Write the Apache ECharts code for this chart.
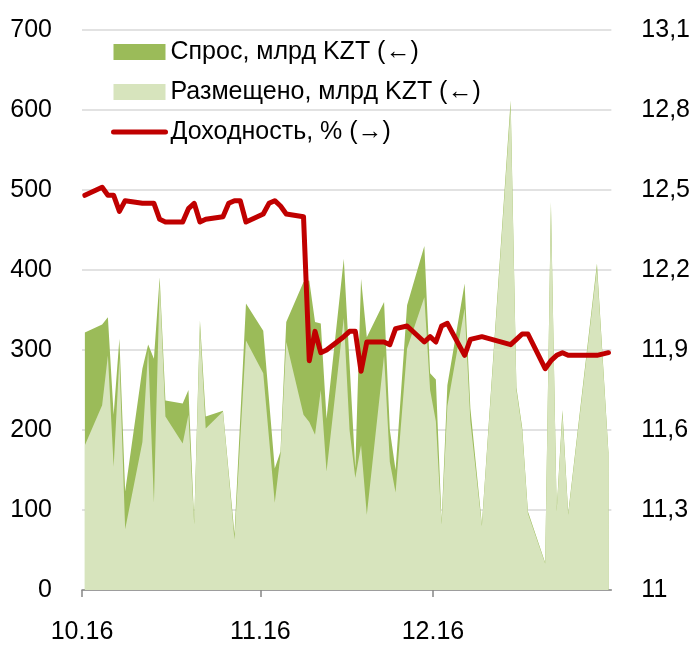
<!DOCTYPE html>
<html>
<head>
<meta charset="utf-8">
<script src="https://cdn.jsdelivr.net/npm/echarts@6/dist/echarts.min.js"></script>
<style>
html, body { margin: 0; padding: 0; background: #fff; }
#main { width: 693px; height: 645px; }
</style>
</head>
<body>
<div id="main"></div>
<script>
// auction dates
var dates = [
    '2016-10-01', '2016-10-04', '2016-10-05', '2016-10-06', '2016-10-07', '2016-10-08',
    '2016-10-11', '2016-10-12', '2016-10-13', '2016-10-14', '2016-10-15',
    '2016-10-18', '2016-10-19', '2016-10-20', '2016-10-21', '2016-10-22',
    '2016-10-25', '2016-10-26', '2016-10-27', '2016-10-28', '2016-10-29',
    '2016-11-01', '2016-11-02', '2016-11-03', '2016-11-04', '2016-11-05',
    '2016-11-08', '2016-11-09', '2016-11-10', '2016-11-11', '2016-11-12',
    '2016-11-15', '2016-11-16', '2016-11-17', '2016-11-18', '2016-11-19',
    '2016-11-22', '2016-11-23', '2016-11-24', '2016-11-26',
    '2016-11-29', '2016-11-30', '2016-12-01', '2016-12-02', '2016-12-03',
    '2016-12-06', '2016-12-07', '2016-12-09',
    '2016-12-14', '2016-12-15', '2016-12-16', '2016-12-17',
    '2016-12-20', '2016-12-21', '2016-12-22', '2016-12-23', '2016-12-24',
    '2016-12-29', '2016-12-31'
];
// Спрос, млрд KZT
var demand = [
    322, 332, 341, 219, 314, 123,
    277, 307, 289, 391, 237,
    233, 250, 85, 337, 217,
    224, 147, 70, 214, 358,
    324, 238, 152, 173, 335,
    385, 387, 335, 333, 214,
    414, 283, 152, 389, 316,
    360, 200, 150, 356,
    430, 271, 263, 85, 256,
    383, 227, 82,
    612, 253, 203, 98,
    34, 485, 100, 225, 96,
    408, 172
];
// Размещено, млрд KZT
var placed = [
    181, 231, 293, 154, 290, 76,
    185, 300, 109, 385, 217,
    183, 219, 82, 330, 202,
    223, 143, 63, 188, 312,
    271, 190, 109, 169, 310,
    219, 210, 194, 250, 148,
    340, 200, 140, 181, 94,
    293, 160, 122, 302,
    366, 250, 211, 82, 230,
    352, 211, 80,
    605, 250, 200, 96,
    33, 480, 98, 220, 94,
    403, 170
];
// Доходность, %
var yieldPct = [
    12.48, 12.51, 12.48, 12.48, 12.42, 12.46,
    12.45, 12.45, 12.45, 12.39, 12.38,
    12.38, 12.43, 12.45, 12.38, 12.39,
    12.40, 12.45, 12.46, 12.46, 12.38,
    12.41, 12.45, 12.46, 12.44, 12.41,
    12.40, 11.86, 11.97, 11.89, 11.90,
    11.95, 11.97, 11.97, 11.82, 11.93,
    11.93, 11.92, 11.98, 11.99,
    11.93, 11.95, 11.93, 11.99, 12.00,
    11.88, 11.94, 11.95,
    11.92, 11.94, 11.96, 11.96,
    11.83, 11.86, 11.88, 11.89, 11.88,
    11.88, 11.89
];
var xLabels = ['10.16', '11.16', '12.16'];
var seriesNames = ['Спрос, млрд KZT (←)', 'Размещено, млрд KZT (←)', 'Доходность, % (→)'];

var FONT = '"Liberation Sans Narrow", "Arial Narrow", "Liberation Sans", Arial, sans-serif';

function toTime(s, hh) {
    return new Date(s + 'T' + (hh || '00') + ':00:00').getTime();
}
// excel puts each day's point in the middle of its slot
function pairs(vals) {
    return vals.map(function (v, i) { return [toTime(dates[i], '12'), v]; });
}

var chartDom = document.getElementById('main');
var myChart = echarts.init(chartDom);
var option;
option = {
    animation: false,
    grid: { left: 82, right: 81, top: 30, bottom: 53 },
    legend: {
        orient: 'vertical',
        left: 111,
        top: 39,
        padding: 0,
        itemWidth: 52,
        itemHeight: 16,
        itemGap: 14,
        textStyle: { fontSize: 25, fontFamily: FONT, color: '#000', lineHeight: 26 },
        data: [
            { name: seriesNames[0], icon: 'rect' },
            { name: seriesNames[1], icon: 'rect' },
            { name: seriesNames[2], itemStyle: { opacity: 0 }, lineStyle: { width: 5 } }
        ]
    },
    xAxis: {
        type: 'time',
        min: toTime('2016-10-01'),
        max: toTime('2017-01-01'),
        splitNumber: 3,
        minInterval: 28 * 864e5,
        axisLine: { lineStyle: { color: '#868686', width: 1.5 } },
        axisTick: { show: true, length: 7, lineStyle: { color: '#868686', width: 1.5 } },
        splitLine: { show: false },
        axisLabel: {
            margin: 30,
            fontSize: 25,
            fontFamily: FONT,
            color: '#000',
            formatter: function (val) {
                var d = new Date(val);
                var idx = (d.getFullYear() - 2016) * 12 + d.getMonth() - 9;
                return xLabels[idx] || '';
            }
        }
    },
    yAxis: [
        {
            type: 'value',
            min: 0,
            max: 700,
            interval: 100,
            axisLine: { show: false },
            axisTick: { show: false },
            splitLine: { lineStyle: { color: '#d9d9d9', width: 1.5 } },
            axisLabel: { margin: 30, fontSize: 25, fontFamily: FONT, color: '#000' }
        },
        {
            type: 'value',
            min: 11,
            max: 13.1,
            interval: 0.3,
            axisLine: { show: false },
            axisTick: { show: false },
            splitLine: { show: false },
            axisLabel: {
                margin: 30,
                fontSize: 25,
                fontFamily: FONT,
                color: '#000',
                formatter: function (v) {
                    var r = Math.round(v * 10) / 10;
                    return (r % 1 === 0 ? String(r) : r.toFixed(1)).replace('.', ',');
                }
            }
        }
    ],
    series: [
        {
            name: seriesNames[0],
            type: 'line',
            symbol: 'none',
            data: pairs(demand),
            lineStyle: { width: 0 },
            itemStyle: { color: '#9bbb59' },
            areaStyle: { color: '#9bbb59', opacity: 1 }
        },
        {
            name: seriesNames[1],
            type: 'line',
            symbol: 'none',
            data: pairs(placed),
            lineStyle: { width: 0 },
            itemStyle: { color: '#d7e4bd' },
            areaStyle: { color: '#d7e4bd', opacity: 1 }
        },
        {
            name: seriesNames[2],
            type: 'line',
            yAxisIndex: 1,
            symbol: 'none',
            data: pairs(yieldPct),
            itemStyle: { color: '#c00000' },
            lineStyle: { width: 5, color: '#c00000', join: 'round', cap: 'round' }
        }
    ]
};
option && myChart.setOption(option);
</script>
</body>
</html>
